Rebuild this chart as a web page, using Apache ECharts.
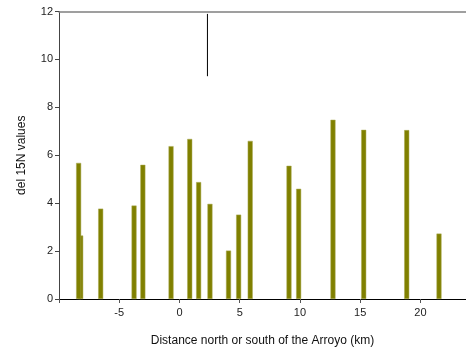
<!DOCTYPE html>
<html><head><meta charset="utf-8">
<script src="https://cdn.jsdelivr.net/npm/echarts@6/dist/echarts.min.js"></script>
<style>html,body{margin:0;padding:0;background:#fff}#c{width:466px;height:352px}</style>
</head><body><div id="c"></div>
<script>
const distances = [-8.2, -8.37, -6.54, -3.77, -3.04, -0.7, 0.85, 1.59, 2.53, 4.07, 4.91, 5.87, 9.09, 9.89, 12.74, 15.29, 18.86, 21.54];
const del15N    = [2.65, 5.68, 3.77, 3.9, 5.6, 6.38, 6.68, 4.88, 3.97, 2.02, 3.52, 6.6, 5.56, 4.6, 7.48, 7.06, 7.05, 2.73];
const strayLineX = [2.32, 2.32];
const strayLineY = [11.9, 9.3];
const xTickLabels = [-5, 0, 5, 10, 15, 20];
const yTicks = [0, 2, 4, 6, 8, 10, 12];

const chart = echarts.init(document.getElementById('c'), null, {renderer: 'canvas'});
const font = 'Liberation Sans, Arial, sans-serif';
chart.setOption({
  animation: false,
  backgroundColor: '#fff',
  grid: {left: 59, right: 0, top: 11.5, height: 288, containLabel: false},
  xAxis: [{
    type: 'value', min: -10, max: 23.78, interval: 5,
    axisLine: {show: true, onZero: false, lineStyle: {color: '#000', width: 1}},
    axisTick: {show: true, length: 4, lineStyle: {color: '#555'}},
    axisLabel: {color: '#222', fontSize: 11, fontFamily: font, margin: 8, showMaxLabel: false,
      formatter: v => (xTickLabels.indexOf(v) >= 0 ? String(v) : '')},
    splitLine: {show: false},
    name: 'Distance north or south of the Arroyo (km)',
    nameLocation: 'middle', nameGap: 36,
    nameTextStyle: {color: '#111', fontSize: 12, fontFamily: font}
  }, {
    type: 'value', position: 'top', min: -10, max: 23.78,
    axisLine: {show: true, onZero: false, lineStyle: {color: '#808080', width: 1.5}},
    axisTick: {show: false}, axisLabel: {show: false}, splitLine: {show: false}
  }],
  yAxis: {
    type: 'value', min: 0, max: 12, interval: 2,
    axisLine: {show: true, onZero: false, lineStyle: {color: '#444', width: 1}},
    axisTick: {show: true, length: 4, lineStyle: {color: '#444'}},
    axisLabel: {color: '#222', fontSize: 11, fontFamily: font, margin: 6},
    splitLine: {show: false},
    name: 'del 15N values', nameLocation: 'middle', nameGap: 31,
    nameTextStyle: {color: '#111', fontSize: 12, fontFamily: font}
  },
  series: [{
    type: 'bar',
    barWidth: 5,
    itemStyle: {color: '#808000', borderColor: '#a8a850', borderWidth: 0.5},
    data: distances.map((d, i) => [d, del15N[i]]),
    z: 2
  }, {
    type: 'line',
    showSymbol: false, symbol: 'none',
    lineStyle: {color: '#000', width: 1},
    data: strayLineX.map((x, i) => [x, strayLineY[i]]),
    z: 3
  }]
});
</script></body></html>
